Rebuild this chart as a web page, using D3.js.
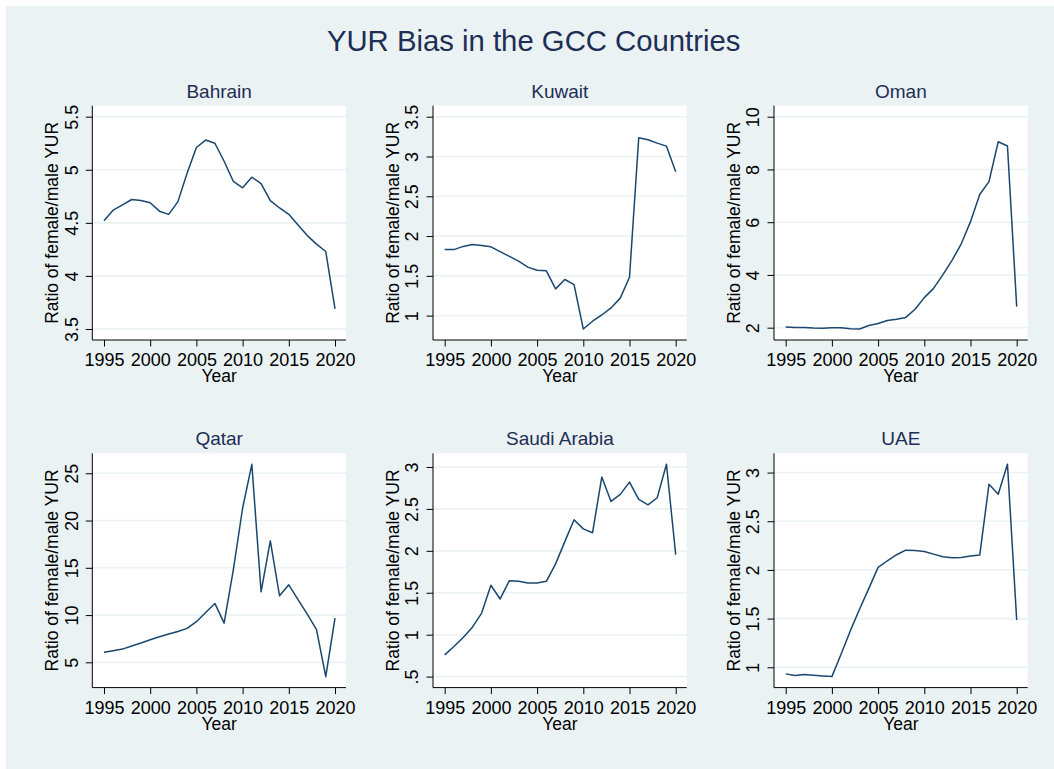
<!DOCTYPE html>
<html>
<head>
<meta charset="utf-8">
<script src="https://cdn.jsdelivr.net/npm/d3@7"></script>
<style>
  html, body { margin: 0; padding: 0; background: #ffffff; }
  svg { display: block; }
  text { font-family: "Liberation Sans", Arial, sans-serif; }
</style>
</head>
<body>
<svg id="chart" width="1054" height="769"></svg>
<script>
// Ratio of female to male youth unemployment rate, 1995-2020
const years = d3.range(1995, 2021);

const bahrain = [4.52, 4.62, 4.67, 4.72, 4.71, 4.69, 4.61, 4.58, 4.70, 4.97, 5.21, 5.28, 5.25, 5.08, 4.89, 4.83, 4.93, 4.87, 4.71, 4.64, 4.58, 4.48, 4.38, 4.30, 4.23, 3.69];
const kuwait  = [1.83, 1.83, 1.87, 1.895, 1.88, 1.865, 1.805, 1.745, 1.685, 1.61, 1.57, 1.563, 1.336, 1.454, 1.39, 0.832, 0.93, 1.008, 1.097, 1.22, 1.483, 3.235, 3.21, 3.168, 3.13, 2.807];
const oman    = [2.03, 2.01, 2.01, 1.99, 1.98, 2.0, 2.0, 1.96, 1.95, 2.08, 2.16, 2.27, 2.32, 2.39, 2.70, 3.14, 3.49, 4.0, 4.55, 5.18, 6.02, 7.05, 7.54, 9.05, 8.89, 2.80];
const qatar   = [6.06, 6.23, 6.4, 6.73, 7.04, 7.39, 7.7, 7.99, 8.27, 8.59, 9.3, 10.28, 11.23, 9.15, 14.8, 21.3, 25.95, 12.46, 17.85, 12.04, 13.2, 11.63, 10.1, 8.45, 3.49, 9.68];
const saudi   = [0.759, 0.859, 0.967, 1.09, 1.258, 1.589, 1.426, 1.644, 1.636, 1.616, 1.616, 1.636, 1.844, 2.11, 2.37, 2.262, 2.215, 2.88, 2.589, 2.673, 2.82, 2.613, 2.549, 2.633, 3.032, 1.955];
const uae     = [0.932, 0.915, 0.925, 0.918, 0.911, 0.904, 1.137, 1.376, 1.598, 1.81, 2.026, 2.094, 2.156, 2.203, 2.2, 2.19, 2.162, 2.135, 2.125, 2.128, 2.142, 2.152, 2.88, 2.778, 3.085, 1.485];

const countries = ["Bahrain", "Kuwait", "Oman", "Qatar", "Saudi Arabia", "UAE"];
const seriesValues = [bahrain, kuwait, oman, qatar, saudi, uae];

const xTicks = [1995, 2000, 2005, 2010, 2015, 2020];
const yTicks = [
  [3.5, 4, 4.5, 5, 5.5],
  [1, 1.5, 2, 2.5, 3, 3.5],
  [2, 4, 6, 8, 10],
  [5, 10, 15, 20, 25],
  [0.5, 1, 1.5, 2, 2.5, 3],
  [1, 1.5, 2, 2.5, 3]
];
const yTickLabels = [
  ["3.5", "4", "4.5", "5", "5.5"],
  ["1", "1.5", "2", "2.5", "3", "3.5"],
  ["2", "4", "6", "8", "10"],
  ["5", "10", "15", "20", "25"],
  [".5", "1", "1.5", "2", "2.5", "3"],
  ["1", "1.5", "2", "2.5", "3"]
];

const chartTitle = "YUR Bias in the GCC Countries";
const xTitle = "Year";
const yTitle = "Ratio of female/male YUR";

// Layout
const colLeft = [92.3, 433, 774];
const rowTop = [105.7, 453.3];
const plotW = 253.7;
const plotH = 234.3;
const pad = 11;          // plot region margin around data
const tickLen = 6.5;

const bg = "#eaf2f3";
const navy = "#1a476f";
const titleColor = "#1e2e55";
const fontSize = 17.5;
const tickFontSize = 18;
const panelTitleSize = 19;

const svg = d3.select("#chart");

svg.append("rect")
  .attr("x", 6).attr("y", 6)
  .attr("width", 1048).attr("height", 763)
  .attr("fill", bg);

svg.append("text")
  .attr("x", 533.7).attr("y", 50.7)
  .attr("text-anchor", "middle")
  .attr("font-size", 29.3)
  .attr("fill", titleColor)
  .text(chartTitle);

countries.forEach((name, i) => {
  const left = colLeft[i % 3];
  const top = rowTop[Math.floor(i / 3)];
  const bottom = top + plotH;
  const right = left + plotW;
  const values = seriesValues[i];

  const x = d3.scaleLinear()
    .domain(d3.extent(years))
    .range([left + pad + 0.7, right - pad]);

  const yExt = d3.extent(values.concat(yTicks[i]));
  const y = d3.scaleLinear()
    .domain(yExt)
    .range([bottom - pad, top + pad]);

  const g = svg.append("g");

  // plot region
  g.append("rect")
    .attr("x", left).attr("y", top)
    .attr("width", plotW).attr("height", plotH)
    .attr("fill", "#ffffff");

  // horizontal grid
  g.selectAll("line.grid")
    .data(yTicks[i])
    .join("line")
    .attr("class", "grid")
    .attr("x1", left).attr("x2", right)
    .attr("y1", d => y(d)).attr("y2", d => y(d))
    .attr("stroke", bg)
    .attr("stroke-width", 1.6);

  // y axis
  const yAxis = d3.axisLeft(y)
    .tickValues(yTicks[i])
    .tickSize(tickLen)
    .tickPadding(0)
    .tickFormat((d, k) => yTickLabels[i][k]);
  const ya = g.append("g")
    .attr("transform", `translate(${left},0)`)
    .call(yAxis);
  ya.select(".domain")
    .attr("d", `M0,${top}V${bottom}`)
    .attr("stroke", "#000").attr("stroke-width", 1);
  ya.selectAll(".tick line").attr("stroke", "#000").attr("stroke-width", 1);
  ya.selectAll(".tick text")
    .attr("x", null).attr("dy", null)
    .attr("transform", "translate(-14.6,0) rotate(-90)")
    .attr("text-anchor", "middle")
    .attr("font-size", tickFontSize)
    .attr("font-family", "Liberation Sans, Arial, sans-serif")
    .attr("fill", "#000");

  // x axis
  const xAxis = d3.axisBottom(x)
    .tickValues(xTicks)
    .tickSize(tickLen)
    .tickPadding(0)
    .tickFormat(d3.format("d"));
  const xa = g.append("g")
    .attr("transform", `translate(0,${bottom})`)
    .call(xAxis);
  xa.select(".domain")
    .attr("d", `M${left},0H${right}`)
    .attr("stroke", "#000").attr("stroke-width", 1);
  xa.selectAll(".tick line").attr("stroke", "#000").attr("stroke-width", 1);
  xa.selectAll(".tick text")
    .attr("y", 26.2).attr("dy", null)
    .attr("font-size", tickFontSize)
    .attr("font-family", "Liberation Sans, Arial, sans-serif")
    .attr("fill", "#000");

  // series line
  g.append("path")
    .datum(years.map((yr, k) => [yr, values[k]]))
    .attr("fill", "none")
    .attr("stroke", navy)
    .attr("stroke-width", 1.5)
    .attr("stroke-linejoin", "round")
    .attr("d", d3.line().x(d => x(d[0])).y(d => y(d[1])));

  // panel title
  g.append("text")
    .attr("x", (left + right) / 2).attr("y", top - 8)
    .attr("text-anchor", "middle")
    .attr("font-size", panelTitleSize)
    .attr("fill", titleColor)
    .text(name);

  // axis titles
  g.append("text")
    .attr("x", (left + right) / 2).attr("y", bottom + 42)
    .attr("text-anchor", "middle")
    .attr("font-size", fontSize)
    .attr("fill", "#000")
    .text(xTitle);

  g.append("text")
    .attr("transform", `translate(${left - 34},${(top + bottom) / 2}) rotate(-90)`)
    .attr("text-anchor", "middle")
    .attr("font-size", fontSize)
    .attr("fill", "#000")
    .text(yTitle);
});
</script>
</body>
</html>
